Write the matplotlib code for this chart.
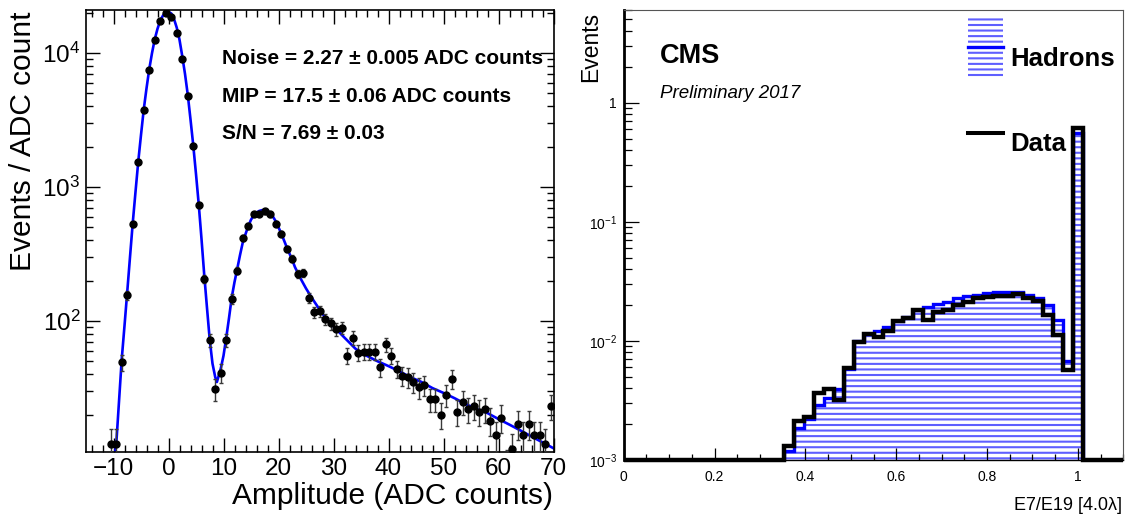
import numpy as np
import matplotlib
matplotlib.use('Agg')
import matplotlib.pyplot as plt
from matplotlib.ticker import FixedLocator, FixedFormatter, MultipleLocator, NullFormatter
from matplotlib.patches import Rectangle
from matplotlib.lines import Line2D

plt.rcParams['font.family'] = ['Liberation Sans', 'DejaVu Sans']
plt.rcParams['hatch.linewidth'] = 1.5

# ---- panel izquierdo: espectro de amplitud (bins de 1 ADC) ----
amp_centers = [-10.5, -9.5, -8.5, -7.5, -6.5, -5.5, -4.5, -3.5, -2.5, -1.5, -0.5, 0.5, 1.5, 2.5,
               3.5, 4.5, 5.5, 6.5, 7.5, 8.5, 9.5, 10.5, 11.5, 12.5, 13.5, 14.5, 15.5, 16.5, 17.5,
               18.5, 19.5, 20.5, 21.5, 22.5, 23.5, 24.5, 25.5, 26.5, 27.5, 28.5, 29.5, 30.5, 31.5,
               32.5, 33.5, 34.5, 35.5, 36.5, 37.5, 38.5, 39.5, 40.5, 41.5, 42.5, 43.5, 44.5, 45.5,
               46.5, 47.5, 48.5, 49.5, 50.5, 51.5, 52.5, 53.5, 54.5, 55.5, 56.5, 57.5, 58.5, 59.5,
               60.5, 61.5, 62.5, 63.5, 64.5, 65.5, 66.5, 67.5, 68.5, 69.5]
events = [12, 12, 49, 155, 527, 1530, 3760, 7510, 12500, 17300, 19800, 18700, 14200, 9020,
          4800, 2020, 729, 206, 72, 31, 41, 72, 147, 238, 419, 512, 629, 629, 659,
          625, 532, 449, 347, 292, 225, 228, 149, 116, 118, 103, 96, 87, 89,
          55, 75, 58, 59, 59, 59, 45, 67, 55, 44, 39, 38, 35, 32,
          33, 26, 26, 20, 28, 37, 21, 25, 22, 23, 21, 22, 18, 14,
          19, 8, 11, 17, 14, 17, 14, 14, 12, 23]
events_err = [3.5, 3.5, 7, 12.4, 23, 39, 61, 87, 112, 132, 141, 137, 119, 95,
              69, 45, 27, 14.4, 8.5, 5.6, 6.4, 8.5, 12.1, 15.4, 20.5, 22.6, 25.1, 25.1, 25.7,
              25, 23.1, 21.2, 18.6, 17.1, 15, 15.1, 12.2, 10.8, 10.9, 10.1, 9.8, 9.3, 9.4,
              7.4, 8.7, 7.6, 7.7, 7.7, 7.7, 6.7, 8.2, 7.4, 6.6, 6.2, 6.2, 5.9, 5.7,
              5.7, 5.1, 5.1, 4.5, 5.3, 6.1, 4.6, 5, 4.7, 4.8, 4.6, 4.7, 4.2, 3.7,
              4.4, 2.8, 3.3, 4.1, 3.7, 4.1, 3.7, 3.7, 3.5, 4.8]

# curva del ajuste
fit_x = [-10.0, -9.5, -9.0, -8.5, -8.0, -7.5, -7.0, -6.5, -6.0, -5.5, -5.0, -4.5, -4.0, -3.5,
         -3.0, -2.5, -2.0, -1.5, -1.0, -0.5, 0.0, 0.5, 1.0, 1.5, 2.0, 2.5, 3.0, 3.5, 4.0, 4.5,
         5.0, 5.5, 6.0, 6.5, 7.0, 7.5, 8.0, 8.5, 8.8, 9.5, 10.0, 10.5, 11.0, 11.5, 12.0, 12.5,
         13.0, 13.5, 14.0, 14.5, 15.0, 15.5, 16.0, 16.5, 17.0, 17.5, 18.0, 18.5, 19.0, 19.5,
         20.0, 20.5, 21.0, 21.5, 22.0, 22.5, 23.0, 24.0, 25.0, 26.0, 27.0, 28.0, 29.0, 30.0,
         32.0, 34.0, 36.0, 38.0, 40.0, 42.0, 44.0, 46.0, 48.0, 50.0, 52.0, 54.0, 56.0, 58.0,
         60.0, 62.0, 64.0, 66.0, 68.0, 70.0]
fit_y = [8.5, 12, 25, 52, 92, 165, 300, 540, 920, 1550, 2450, 3800, 5450, 7600,
         10000, 12700, 15200, 17500, 19100, 20100, 20300, 19800, 18000, 15500, 12600, 9500, 7000, 4900, 3200, 2050,
         1250, 740, 410, 220, 125, 72, 48, 38, 35, 44, 55, 75, 105, 150, 195, 245,
         310, 385, 445, 510, 570, 615, 645, 663, 672, 672, 662, 640, 600, 555,
         500, 450, 400, 355, 318, 285, 252, 208, 175, 150, 130, 113, 101, 91,
         75, 62, 55, 50, 46, 42, 38, 35, 31.5, 29, 26.5, 24, 22, 20.5,
         18.5, 16.8, 15.2, 13.7, 12.4, 11.2]

fit_lines = ['Noise = 2.27 \u00b1 0.005 ADC counts',
             'MIP = 17.5 \u00b1 0.06 ADC counts',
             'S/N = 7.69 \u00b1 0.03']

left_yticks = [100, 1000, 10000]
left_ylabels = [r'$\mathdefault{10^{2}}$', r'$\mathdefault{10^{3}}$', r'$\mathdefault{10^{4}}$']

# ---- panel derecho: E7/E19 ----
n_bins = 50
bin_edges = np.linspace(0, 1.1, n_bins + 1)
data_e7 = [0] * 16 + [1.30e-3, 2.13e-3, 2.30e-3, 3.66e-3, 3.91e-3, 3.18e-3, 5.97e-3, 9.8e-3,
                      1.15e-2, 1.07e-2, 1.20e-2, 1.47e-2, 1.56e-2, 1.81e-2, 1.49e-2, 1.75e-2,
                      1.81e-2, 2.00e-2, 2.13e-2, 2.27e-2, 2.33e-2, 2.36e-2, 2.37e-2, 2.46e-2,
                      2.27e-2, 2.17e-2, 1.64e-2, 1.13e-2, 5.75e-3, 0.61] + [0] * 4
hadrons_e7 = [0] * 16 + [1.2e-3, 1.84e-3, 2.2e-3, 2.88e-3, 3.32e-3, 3.91e-3, 5.8e-3, 1.0e-2,
                         1.15e-2, 1.20e-2, 1.31e-2, 1.47e-2, 1.59e-2, 1.81e-2, 1.93e-2, 2.06e-2,
                         2.13e-2, 2.27e-2, 2.37e-2, 2.42e-2, 2.51e-2, 2.55e-2, 2.57e-2, 2.55e-2,
                         2.45e-2, 2.3e-2, 2.0e-2, 1.49e-2, 6.75e-3, 0.56] + [0] * 4

right_xticks = [0, 0.2, 0.4, 0.6, 0.8, 1.0]
right_xlabels = ['0', '0.2', '0.4', '0.6', '0.8', '1']
right_yticks = [1e-3, 1e-2, 1e-1, 1]
right_ylabels = [r'$\mathdefault{10^{-3}}$', r'$\mathdefault{10^{-2}}$', r'$\mathdefault{10^{-1}}$', '1']

W, H = 1129, 515
fig = plt.figure(figsize=(W / 100, H / 100), dpi=100)

def px(x, y):
    # píxeles (desde arriba a la izquierda) -> coordenadas de figura
    return x / W, 1 - y / H

# ===================== izquierda =====================
ax1 = fig.add_axes([86 / W, 63 / H, 467.5 / W, 442 / H])
ax1.set_yscale('log')
ax1.plot(fit_x, fit_y, color='#0000ff', lw=1.9, zorder=2)
ax1.errorbar(amp_centers, events, yerr=events_err, fmt='o', color='black', ms=5,
             ecolor='#3a3a3a', elinewidth=1, capsize=1.4, capthick=1, zorder=3)
ax1.set_xlim(-15, 70)
ax1.set_ylim(10.5, 2.1e4)
ax1.xaxis.set_major_locator(MultipleLocator(10))
ax1.xaxis.set_minor_locator(MultipleLocator(2))
ax1.yaxis.set_major_locator(FixedLocator(left_yticks))
ax1.yaxis.set_major_formatter(FixedFormatter(left_ylabels))
ax1.yaxis.set_minor_formatter(NullFormatter())
ax1.tick_params(which='both', direction='in', top=True, right=True, width=1)
ax1.tick_params(which='major', length=10, labelsize=17.5, pad=4)
ax1.tick_params(which='minor', length=5)
for s in ax1.spines.values():
    s.set_linewidth(1.2)

for i, t in enumerate(fit_lines):
    fig.text(*px(222, 64 + i * 37.5), t, fontsize=15, fontweight='bold', va='baseline', ha='left')

fig.text(*px(553, 504), 'Amplitude (ADC counts)', fontsize=21.5, ha='right', va='baseline')
fig.text(*px(9, 271), 'Events / ADC count', fontsize=21.5, rotation=90, ha='left', va='bottom')

# ===================== derecha =====================
ymin = 1e-3
ax2 = fig.add_axes([623.7 / W, 55 / H, 499.6 / W, 450 / H])
ax2.set_yscale('log')
had = np.clip(hadrons_e7, ymin, None)
dat = np.clip(data_e7, ymin, None)
ax2.stairs(had, bin_edges, baseline=ymin, fill=True, facecolor='none', edgecolor='#5f5fff',
           lw=0, hatch='---', zorder=1)
ax2.stairs(had, bin_edges, baseline=ymin, color='#0000ff', lw=2.4, zorder=2)
ax2.stairs(dat, bin_edges, baseline=ymin, color='black', lw=3.2, zorder=3, clip_on=False)
ax2.set_xlim(0, 1.1)
ax2.set_ylim(ymin, 6.0)
ax2.xaxis.set_major_locator(FixedLocator(right_xticks))
ax2.xaxis.set_major_formatter(FixedFormatter(right_xlabels))
ax2.xaxis.set_minor_locator(MultipleLocator(0.05))
ax2.yaxis.set_major_locator(FixedLocator(right_yticks))
ax2.yaxis.set_major_formatter(FixedFormatter(right_ylabels))
ax2.yaxis.set_minor_formatter(NullFormatter())
ax2.tick_params(which='both', direction='in', top=False, right=False, width=0.9, labelsize=10)
ax2.tick_params(axis='x', which='major', length=9, pad=7)
ax2.tick_params(axis='x', which='minor', length=4.5)
ax2.tick_params(axis='y', which='major', length=11, pad=5)
ax2.tick_params(axis='y', which='minor', length=6)
ax2.spines['left'].set_linewidth(2)
ax2.spines['bottom'].set_linewidth(1)
for k in ('top', 'right'):
    ax2.spines[k].set_linewidth(0.8)
    ax2.spines[k].set_color('#555555')

fig.text(*px(660, 63), 'CMS', fontsize=19.5, fontweight='bold', va='baseline')
fig.text(*px(660, 98), 'Preliminary 2017', fontsize=13.5, style='italic', va='baseline')
fig.text(*px(591, 12), 'Events', fontsize=16.5, rotation=90, ha='center', va='top')
fig.text(*px(1122, 510), 'E7/E19 [4.0\u03bb]', fontsize=13, ha='right', va='baseline')

# leyenda
x0, y0 = px(968, 78)
x1, y1 = px(1003, 18)
fig.patches.append(Rectangle((x0, y0), x1 - x0, y1 - y0, transform=fig.transFigure,
                             facecolor='none', edgecolor='#5f5fff', lw=0, hatch='---'))
fig.lines.append(Line2D([x0, x1], [px(0, 47.3)[1]] * 2, transform=fig.transFigure,
                        color='#0000ff', lw=2.4))
fig.lines.append(Line2D([x0, x1], [px(0, 133.3)[1]] * 2, transform=fig.transFigure,
                        color='black', lw=2.9))
fig.text(*px(1010, 66), 'Hadrons', fontsize=18.5, fontweight='bold', va='baseline')
fig.text(*px(1010, 151), 'Data', fontsize=18.5, fontweight='bold', va='baseline')

fig.savefig('out.png', dpi=100)
